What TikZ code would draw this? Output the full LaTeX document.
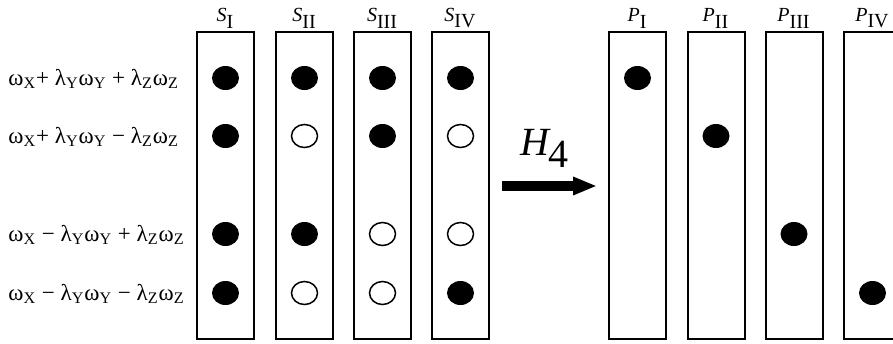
\documentclass[tikz,border=0pt]{standalone}
\usepackage{fontspec}
\setmainfont{Liberation Serif}
\usetikzlibrary{shapes.geometric, arrows.meta}
\tikzset{
    slot/.style = {rectangle, draw=black, line width=1pt, minimum width=28.5pt, minimum height=153.5pt, inner sep=0pt},
    slotlabel/.style = {anchor=south, inner sep=1.2pt, font=\fontsize{10}{12}\selectfont},
    freq/.style = {anchor=west, inner sep=0pt, font=\fontsize{11.5}{14}\selectfont},
    full/.style = {ellipse, fill=black, minimum width=13.5pt, minimum height=12pt, inner sep=0pt},
    empty/.style = {ellipse, draw=black, line width=0.75pt, fill=white, minimum width=13pt, minimum height=11.5pt, inner sep=0pt},
    bigarrow/.style = {line width=5pt, -{Triangle[length=12pt,width=8.5pt]}}
}

\begin{document}
\begin{tikzpicture}[x=0.5pt, y=-0.5pt]
\clip (0,0) rectangle (893,343);

\node[freq] (f1) at (8,79) {ω\textsubscript{X}+ λ\textsubscript{Y}ω\textsubscript{Y} + λ\textsubscript{Z}ω\textsubscript{Z}};
\node[freq] (f2) at (8,137) {ω\textsubscript{X}+ λ\textsubscript{Y}ω\textsubscript{Y} − λ\textsubscript{Z}ω\textsubscript{Z}};
\node[freq] (f3) at (8,235) {ω\textsubscript{X} − λ\textsubscript{Y}ω\textsubscript{Y} + λ\textsubscript{Z}ω\textsubscript{Z}};
\node[freq] (f4) at (8,294) {ω\textsubscript{X} − λ\textsubscript{Y}ω\textsubscript{Y} − λ\textsubscript{Z}ω\textsubscript{Z}};

\node[slot] (s1) at (225.5,185.5) {};
\node[slot] (s2) at (304.5,185.5) {};
\node[slot] (s3) at (382.5,185.5) {};
\node[slot] (s4) at (460.5,185.5) {};

\node[slotlabel] (s1lab) at (s1.north) {$\textit{S}_{\textrm{I}}$};
\node[slotlabel] (s2lab) at (s2.north) {$\textit{S}_{\textrm{II}}$};
\node[slotlabel] (s3lab) at (s3.north) {$\textit{S}_{\textrm{III}}$};
\node[slotlabel] (s4lab) at (s4.north) {$\textit{S}_{\textrm{IV}}$};

\node[full] (s1a) at (225.5,78) {};
\node[full] (s2a) at (304.5,78) {};
\node[full] (s3a) at (382.5,78) {};
\node[full] (s4a) at (460.5,78) {};

\node[full] (s1b) at (225.5,136) {};
\node[empty] (s2b) at (304.5,136) {};
\node[full] (s3b) at (382.5,136) {};
\node[empty] (s4b) at (460.5,136) {};

\node[full] (s1c) at (225.5,234) {};
\node[full] (s2c) at (304.5,234) {};
\node[empty] (s3c) at (382.5,234) {};
\node[empty] (s4c) at (460.5,234) {};

\node[full] (s1d) at (225.5,293) {};
\node[empty] (s2d) at (304.5,293) {};
\node[empty] (s3d) at (382.5,293) {};
\node[full] (s4d) at (460.5,293) {};

\node[font=\fontsize{20}{24}\selectfont, inner sep=0pt] (h4) at (545,148) {$\textit{H}_{\textrm{4}}$};
\coordinate (arrS) at (502,186);
\coordinate (arrP) at (597,186);
\draw[bigarrow] (arrS) -- (arrP);

\node[slot] (p1) at (637.5,185.5) {};
\node[slot] (p2) at (716,185.5) {};
\node[slot] (p3) at (794,185.5) {};
\node[slot] (p4) at (872.5,185.5) {};

\node[slotlabel] (p1lab) at (p1.north) {$\textit{P}_{\textrm{I}}$};
\node[slotlabel] (p2lab) at (p2.north) {$\textit{P}_{\textrm{II}}$};
\node[slotlabel] (p3lab) at (p3.north) {$\textit{P}_{\textrm{III}}$};
\node[slotlabel] (p4lab) at (p4.north) {$\textit{P}_{\textrm{IV}}$};

\node[full] (p1a) at (637.5,78) {};
\node[full] (p2b) at (716,136) {};
\node[full] (p3c) at (794,234) {};
\node[full] (p4d) at (872.5,293) {};

\end{tikzpicture}
\end{document}
